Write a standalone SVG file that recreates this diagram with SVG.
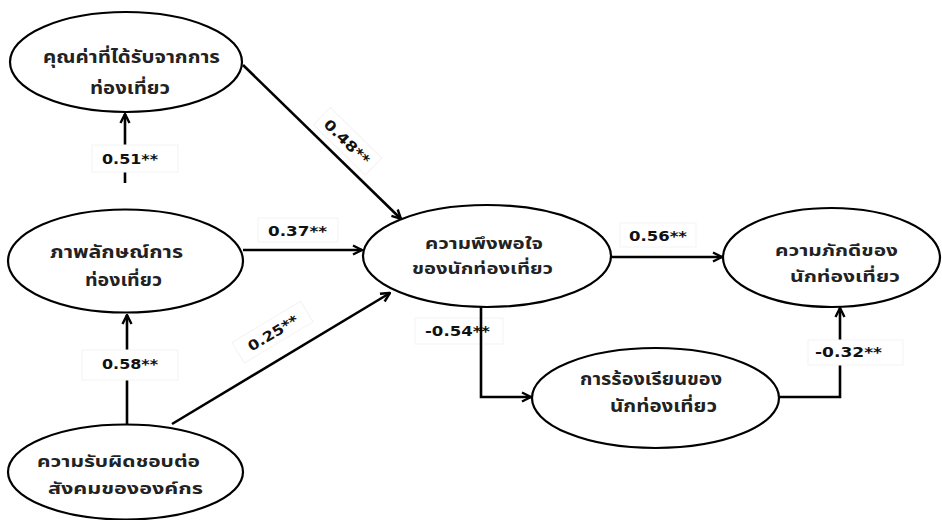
<svg xmlns="http://www.w3.org/2000/svg" width="942" height="520" viewBox="0 0 942 520">
<defs>
<marker id="arr" viewBox="0 0 12 12" refX="11" refY="6" markerWidth="12" markerHeight="12" markerUnits="userSpaceOnUse" orient="auto">
<path d="M2,1.5 L11,6 L2,10.5" fill="none" stroke="#000" stroke-width="2.4" stroke-linejoin="miter"/>
</marker>
<style>
.node ellipse{fill:#fff;stroke:#000;stroke-width:2.2}
.th{font-family:"Noto Sans Thai","Noto Serif Thai","Garuda","Loma","DejaVu Sans",sans-serif;font-weight:bold;font-size:17px;fill:#222;text-anchor:middle}
.sm{font-size:16px}
.lbl{font-family:"DejaVu Sans","Verdana",sans-serif;font-weight:bold;font-size:14px;fill:#111;text-anchor:middle}
.box{fill:#fff;stroke:#f3f3f3;stroke-width:1}
.ln{fill:none;stroke:#000;stroke-width:2.6}
</style>
</defs>
<rect width="942" height="520" fill="#fff"/>

<g id="label-m054">
<rect class="box" x="415" y="318" width="88" height="26"/>
<text class="lbl" x="457.5" y="336" textLength="65" lengthAdjust="spacingAndGlyphs">-0.54**</text>
</g>

<g id="connectors">
<line class="ln" x1="125" y1="183" x2="125" y2="114" marker-end="url(#arr)"/>
<line class="ln" x1="127" y1="424" x2="127" y2="315" marker-end="url(#arr)"/>
<line class="ln" x1="243" y1="65" x2="401" y2="219" marker-end="url(#arr)"/>
<line class="ln" x1="243" y1="250" x2="362" y2="250" marker-end="url(#arr)"/>
<line class="ln" x1="172" y1="424" x2="390" y2="293" marker-end="url(#arr)"/>
<line class="ln" x1="610" y1="257" x2="722" y2="257" marker-end="url(#arr)"/>
<polyline class="ln" points="481,307 481,397 531,397" marker-end="url(#arr)"/>
<polyline class="ln" points="779,397 840,397 840,308" marker-end="url(#arr)"/>
</g>

<g id="labels">
<rect class="box" x="92" y="145" width="86" height="27"/>
<text class="lbl" x="130" y="164" textLength="56" lengthAdjust="spacingAndGlyphs">0.51**</text>
<rect class="box" x="82" y="350" width="96" height="30"/>
<text class="lbl" x="130" y="369" textLength="56" lengthAdjust="spacingAndGlyphs">0.58**</text>
<rect class="box" x="258" y="218" width="80" height="24"/>
<text class="lbl" x="297.5" y="236" textLength="59" lengthAdjust="spacingAndGlyphs">0.37**</text>
<rect class="box" x="620" y="223" width="76" height="24"/>
<text class="lbl" x="658" y="241" textLength="58" lengthAdjust="spacingAndGlyphs">0.56**</text>
<rect class="box" x="808" y="340" width="95" height="25"/>
<text class="lbl" x="848.5" y="357" textLength="67" lengthAdjust="spacingAndGlyphs">-0.32**</text>
<g transform="translate(347,142) rotate(44.4)">
<rect class="box" x="-36" y="-13" width="72" height="24"/>
<text class="lbl" x="0" y="5" textLength="58" lengthAdjust="spacingAndGlyphs">0.48**</text>
</g>
<g transform="translate(273,333) rotate(-31)">
<rect class="box" x="-40" y="-13" width="80" height="24"/>
<text class="lbl" x="0" y="5" textLength="56" lengthAdjust="spacingAndGlyphs">0.25**</text>
</g>
</g>

<g id="node-value" class="node">
<ellipse cx="126" cy="62" rx="116" ry="50"/>
<text class="th" x="131.5" y="63" textLength="177" lengthAdjust="spacingAndGlyphs">คุณค่าที่ได้รับจากการ</text>
<text class="th" x="130" y="94" textLength="80" lengthAdjust="spacingAndGlyphs">ท่องเที่ยว</text>
</g>
<g id="node-image" class="node">
<ellipse cx="125.5" cy="261" rx="117.5" ry="51.5"/>
<text class="th" x="116.5" y="258" textLength="133" lengthAdjust="spacingAndGlyphs">ภาพลักษณ์การ</text>
<text class="th" x="123.5" y="286" textLength="77" lengthAdjust="spacingAndGlyphs">ท่องเที่ยว</text>
</g>
<g id="node-csr" class="node">
<ellipse cx="125.5" cy="472" rx="117.5" ry="47.5"/>
<text class="th sm" x="118.5" y="467" textLength="163" lengthAdjust="spacingAndGlyphs">ความรับผิดชอบต่อ</text>
<text class="th sm" x="125.5" y="494" textLength="155" lengthAdjust="spacingAndGlyphs">สังคมขององค์กร</text>
</g>
<g id="node-satisfaction" class="node">
<ellipse cx="487" cy="256" rx="124" ry="51"/>
<text class="th sm" x="484" y="249" textLength="118" lengthAdjust="spacingAndGlyphs">ความพึงพอใจ</text>
<text class="th sm" x="482.5" y="274" textLength="141" lengthAdjust="spacingAndGlyphs">ของนักท่องเที่ยว</text>
</g>
<g id="node-loyalty" class="node">
<ellipse cx="831.5" cy="257.5" rx="108.5" ry="49.5"/>
<text class="th sm" x="836.5" y="256" textLength="123" lengthAdjust="spacingAndGlyphs">ความภักดีของ</text>
<text class="th sm" x="845" y="282" textLength="110" lengthAdjust="spacingAndGlyphs">นักท่องเที่ยว</text>
</g>
<g id="node-complaint" class="node">
<ellipse cx="655.5" cy="398" rx="123.5" ry="50"/>
<text class="th" x="651" y="385" textLength="142" lengthAdjust="spacingAndGlyphs">การร้องเรียนของ</text>
<text class="th" x="663.5" y="412" textLength="107" lengthAdjust="spacingAndGlyphs">นักท่องเที่ยว</text>
</g>
</svg>
